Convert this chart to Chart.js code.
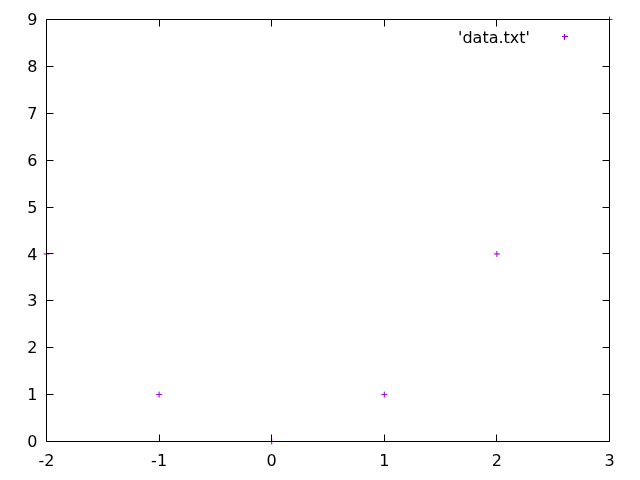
<!DOCTYPE html>
<html><head><meta charset="utf-8">
<script src="https://cdn.jsdelivr.net/npm/chart.js@4"></script>
<style>html,body{margin:0;padding:0;background:#fff}#c{display:block}</style>
</head><body>
<canvas id="c" width="640" height="480"></canvas>
<script>
const xValues = [-2, -1, 0, 1, 2, 3];
const yValues = [4, 1, 0, 1, 4, 9];
const seriesLabel = "'data.txt'";
const xTicks = [-2, -1, 0, 1, 2, 3];
const yTicks = [0, 1, 2, 3, 4, 5, 6, 7, 8, 9];

const FONT = {family: 'DejaVu Sans', size: 16};
const COLOR = '#9400d3';

const frame = {
  id: 'frame',
  afterDraw(chart) {
    const {ctx, chartArea: a, scales} = chart;
    ctx.save();
    ctx.strokeStyle = '#000';
    ctx.lineWidth = 1;
    ctx.beginPath();
    const L = Math.floor(a.left) + 0.5, R = Math.floor(a.right) + 0.5;
    const T = Math.floor(a.top) + 0.5, B = Math.floor(a.bottom) + 0.5;
    ctx.rect(L, T, R - L, B - T);
    const tl = 7;
    xTicks.forEach(v => {
      const p = Math.floor(scales.x.getPixelForValue(v)) + 0.5;
      ctx.moveTo(p, B); ctx.lineTo(p, B - tl);
      ctx.moveTo(p, T); ctx.lineTo(p, T + tl);
    });
    yTicks.forEach(v => {
      const p = Math.floor(scales.y.getPixelForValue(v)) + 0.5;
      ctx.moveTo(L, p); ctx.lineTo(L + tl, p);
      ctx.moveTo(R, p); ctx.lineTo(R - tl, p);
    });
    ctx.stroke();
    // legend
    ctx.font = FONT.size + 'px ' + FONT.family;
    ctx.fillStyle = '#000';
    ctx.textAlign = 'right';
    ctx.textBaseline = 'middle';
    ctx.fillText(chart.data.datasets[0].label, 530, 38.5);
    ctx.strokeStyle = COLOR;
    ctx.beginPath();
    ctx.moveTo(562, 36.5); ctx.lineTo(568, 36.5);
    ctx.moveTo(564.5, 34); ctx.lineTo(564.5, 40);
    ctx.stroke();
    ctx.restore();
  }
};

new Chart(document.getElementById('c'), {
  type: 'scatter',
  data: {
    datasets: [{
      label: seriesLabel,
      data: xValues.map((x, i) => ({x, y: yValues[i]})),
      pointStyle: 'cross',
      radius: 3,
      borderColor: COLOR,
      backgroundColor: COLOR,
      borderWidth: 1,
      hoverRadius: 3,
      clip: false
    }]
  },
  options: {
    responsive: false,
    animation: false,
    events: [],
    layout: {padding: {top: 19.5, right: 30.5, left: 0, bottom: 0}},
    plugins: {legend: {display: false}, tooltip: {enabled: false}},
    scales: {
      x: {
        type: 'linear', min: -2, max: 3,
        afterBuildTicks: s => { s.ticks = xTicks.map(v => ({value: v})); },
        afterFit: s => { s.height = 38.5; },
        grid: {display: false, drawTicks: false},
        border: {display: false},
        ticks: {color: '#000', font: FONT, padding: 11, maxRotation: 0, autoSkip: false}
      },
      y: {
        type: 'linear', min: 0, max: 9,
        afterBuildTicks: s => { s.ticks = yTicks.map(v => ({value: v})); },
        afterFit: s => { s.width = 46.5; },
        grid: {display: false, drawTicks: false},
        border: {display: false},
        ticks: {color: '#000', font: FONT, padding: 9, autoSkip: false, labelOffset: 1.5}
      }
    }
  },
  plugins: [frame]
});
</script>
</body></html>
